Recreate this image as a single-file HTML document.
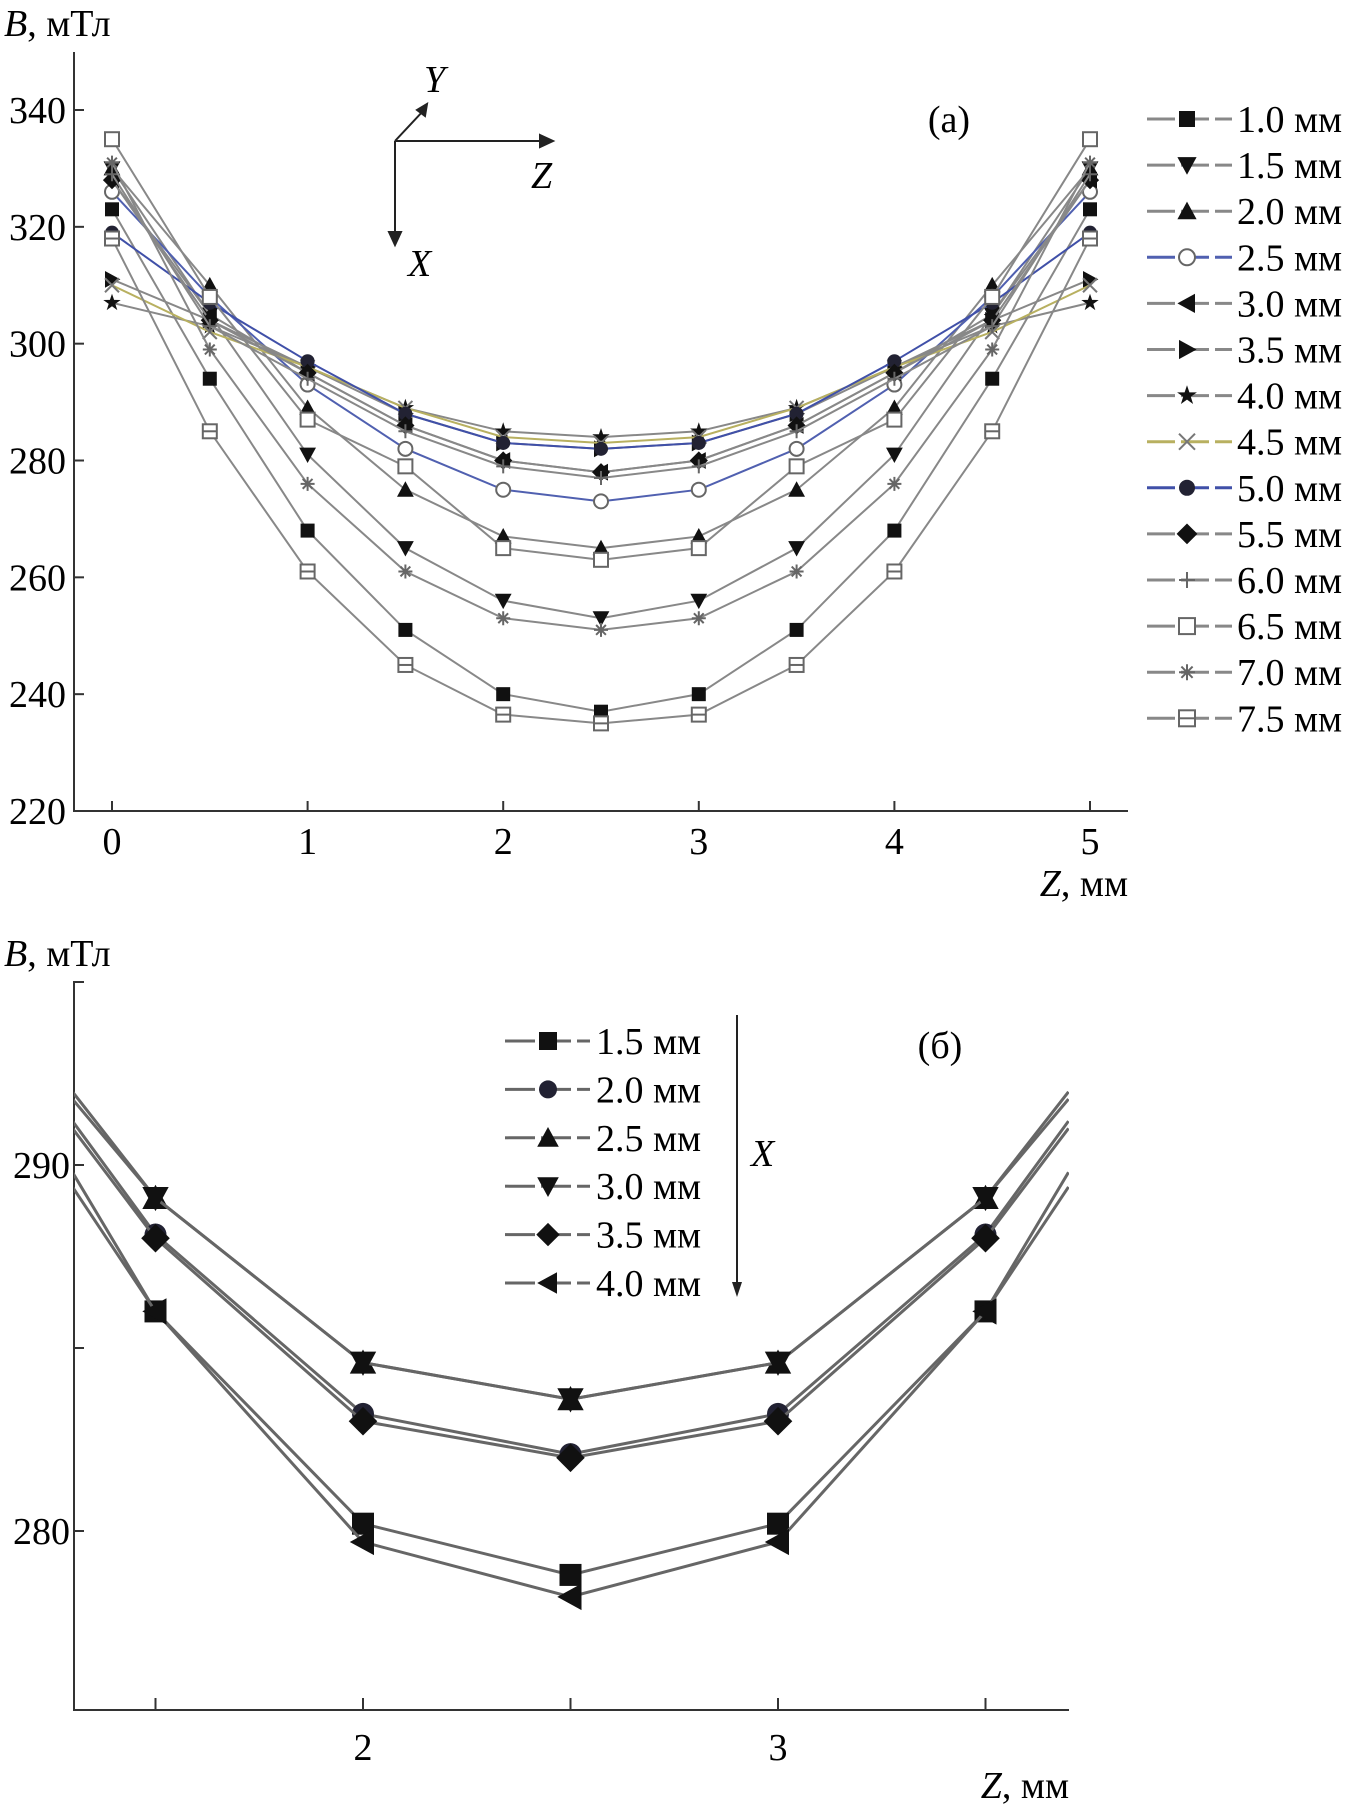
<!DOCTYPE html>
<html><head><meta charset="utf-8"><style>
body{margin:0;background:#fff}
svg{display:block;font-family:"Liberation Serif",serif}
</style></head><body>
<svg id="svg" width="1356" height="1810" viewBox="0 0 1356 1810" xmlns="http://www.w3.org/2000/svg">
<g id="topChart"></g>
<g id="botChart"></g>
</svg>
<script>
// ---- chart (a) data ----
const zA = [0,0.5,1,1.5,2,2.5,3,3.5,4,4.5,5];
const yTicksA = [220,240,260,280,300,320,340];
const xTicksA = [0,1,2,3,4,5];
const seriesNamesA = ["1.0 мм","1.5 мм","2.0 мм","2.5 мм","3.0 мм","3.5 мм","4.0 мм","4.5 мм","5.0 мм","5.5 мм","6.0 мм","6.5 мм","7.0 мм","7.5 мм"];
const markersA = ["square","down","up","ocircle","left","right","star","x","circle","diamond","plus","osquare","asterisk","osqline"];
const s10 = [323,294,268,251,240,237,240,251,268,294,323];
const s15 = [330,305,281,265,256,253,256,265,281,305,330];
const s20 = [330,310,289,275,267,265,267,275,289,310,330];
const s25 = [326,308,293,282,275,273,275,282,293,308,326];
const s30 = [328,305,295,286,280,278,280,286,295,305,328];
const s35 = [311,304,296,288,283,282,283,288,296,304,311];
const s40 = [307,303,296,289,285,284,285,289,296,303,307];
const s45 = [310,302,296,289,284,283,284,289,296,302,310];
const s50 = [319,307,297,288,283,282,283,288,297,307,319];
const s55 = [328,304,295,286,280,278,280,286,295,304,328];
const s60 = [329,303,294,285,279,277,279,285,294,303,329];
const s65 = [335,308,287,279,265,263,265,279,287,308,335];
const s70 = [331,299,276,261,253,251,253,261,276,299,331];
const s75 = [318,285,261,245,236.5,235,236.5,245,261,285,318];
const seriesA = [s10,s15,s20,s25,s30,s35,s40,s45,s50,s55,s60,s65,s70,s75];
const lineColorsA = ["#888","#888","#888","#5060b0","#888","#888","#888","#b8b060","#4050a8","#888","#888","#888","#888","#888"];

// ---- chart (b) data ----
const zB = [1.3,1.5,2,2.5,3,3.5,3.7];
const yTicksB = [280,290];
const xTicksB = [2,3];
const minorTicksB = [1.5,2,2.5,3,3.5];
const seriesNamesB = ["1.5 мм","2.0 мм","2.5 мм","3.0 мм","3.5 мм","4.0 мм"];
const markersB = ["square","circle","up","down","diamond","left"];
const b15 = [289.8,286.0,280.2,278.8,280.2,286.0,289.8];
const b20 = [291.2,288.1,283.2,282.1,283.2,288.1,291.2];
const b25 = [292.0,289.1,284.6,283.6,284.6,289.1,292.0];
const b30 = [291.8,289.1,284.6,283.6,284.6,289.1,291.8];
const b35 = [291.0,288.0,283.0,282.0,283.0,288.0,291.0];
const b40 = [289.4,286.0,279.7,278.2,279.7,286.0,289.4];
const seriesB = [b15,b20,b25,b30,b35,b40];

const NS="http://www.w3.org/2000/svg";
function el(tag,attrs,parent,text){const e=document.createElementNS(NS,tag);for(const k in attrs)e.setAttribute(k,attrs[k]);if(text!==undefined)e.textContent=text;parent.appendChild(e);return e;}

function marker(g,type,x,y,s){
  const b="#111";let m;
  switch(type){
    case "square":m=el("rect",{x:x-s,y:y-s,width:2*s,height:2*s,fill:b},g);break;
    case "osquare":m=el("rect",{x:x-s,y:y-s,width:2*s,height:2*s,fill:"#fff",stroke:"#666","stroke-width":2},g);break;
    case "osqline":m=el("g",{},g);el("rect",{x:x-s,y:y-s,width:2*s,height:2*s,fill:"#fff",stroke:"#666","stroke-width":2},m);el("line",{x1:x-s,y1:y,x2:x+s,y2:y,stroke:"#666","stroke-width":2},m);break;
    case "circle":m=el("circle",{cx:x,cy:y,r:s,fill:"#223"},g);break;
    case "ocircle":m=el("circle",{cx:x,cy:y,r:s,fill:"#fff",stroke:"#666","stroke-width":2},g);break;
    case "up":m=el("polygon",{points:`${x},${y-s*1.2} ${x-s*1.2},${y+s} ${x+s*1.2},${y+s}`,fill:b},g);break;
    case "down":m=el("polygon",{points:`${x},${y+s*1.2} ${x-s*1.2},${y-s} ${x+s*1.2},${y-s}`,fill:b},g);break;
    case "left":m=el("polygon",{points:`${x-s*1.2},${y} ${x+s},${y-s*1.2} ${x+s},${y+s*1.2}`,fill:b},g);break;
    case "right":m=el("polygon",{points:`${x+s*1.2},${y} ${x-s},${y-s*1.2} ${x-s},${y+s*1.2}`,fill:b},g);break;
    case "diamond":m=el("polygon",{points:`${x},${y-s*1.3} ${x+s*1.3},${y} ${x},${y+s*1.3} ${x-s*1.3},${y}`,fill:b},g);break;
    case "star":{let p=[];for(let i=0;i<10;i++){const r=i%2?s*0.5:s*1.3;const a=-Math.PI/2+i*Math.PI/5;p.push((x+r*Math.cos(a)).toFixed(1)+","+(y+r*Math.sin(a)).toFixed(1));}m=el("polygon",{points:p.join(" "),fill:b},g);break;}
    case "x":m=el("path",{d:`M${x-s},${y-s}L${x+s},${y+s}M${x-s},${y+s}L${x+s},${y-s}`,stroke:"#777","stroke-width":2},g);break;
    case "plus":m=el("path",{d:`M${x-s},${y}L${x+s},${y}M${x},${y-s}L${x},${y+s}`,stroke:"#666","stroke-width":2},g);break;
    case "asterisk":m=el("path",{d:`M${x-s},${y}L${x+s},${y}M${x},${y-s}L${x},${y+s}M${x-s*.7},${y-s*.7}L${x+s*.7},${y+s*.7}M${x-s*.7},${y+s*.7}L${x+s*.7},${y-s*.7}`,stroke:"#666","stroke-width":2},g);break;
  }
  return m;
}
const FS=38;
// ---------- chart (a) ----------
(function(){
  const g=document.getElementById("topChart");
  const x0=112,x1=1090,yTop=110,yBot=811;
  const xs=z=>x0+(z-0)*(x1-x0)/5;
  const ys=v=>yBot-(v-220)*(yBot-yTop)/120;
  let a=el("path",{d:"M74,52L74,811L1128,811",fill:"none",stroke:"#333","stroke-width":2},g);
  
  yTicksA.forEach(v=>{el("line",{x1:74,y1:ys(v),x2:84,y2:ys(v),stroke:"#333","stroke-width":2},g);
    const t=el("text",{x:66,y:ys(v)+13,"text-anchor":"end","font-size":FS},g,String(v));
    });
  xTicksA.forEach(v=>{el("line",{x1:xs(v),y1:811,x2:xs(v),y2:801,stroke:"#333","stroke-width":2},g);
    const t=el("text",{x:xs(v),y:854,"text-anchor":"middle","font-size":FS},g,String(v));
    });
  const yl=el("text",{x:4,y:36,"font-size":FS},g);yl.innerHTML='<tspan font-style="italic">B</tspan>, мТл';
  
  const xl=el("text",{x:1128,y:896,"text-anchor":"end","font-size":FS},g);xl.innerHTML='<tspan font-style="italic">Z</tspan>, мм';
  
  const pl=el("text",{x:949,y:132,"text-anchor":"middle","font-size":FS},g,"(a)");
  
  const ci=el("g",{stroke:"#222","stroke-width":2,fill:"none"},g);
  
  el("path",{d:"M395,141L548,141M395,141L395,240M395,141L424,110"},ci);
  el("path",{d:"M540,135L553,141L540,147Z M389,232L395,245L401,232Z M417,110L427,104L425,116Z",fill:"#222"},ci);
  el("text",{x:424,y:92,"font-size":FS,"font-style":"italic"},g,"Y");
  el("text",{x:531,y:188,"font-size":FS,"font-style":"italic"},g,"Z");
  el("text",{x:408,y:276,"font-size":FS,"font-style":"italic"},g,"X");
  seriesA.forEach((s,i)=>{
    const sg=el("g",{},g);
    
    
    el("polyline",{points:s.map((v,j)=>xs(zA[j])+","+ys(v)).join(" "),fill:"none",stroke:lineColorsA[i],"stroke-width":2},sg);
    s.forEach((v,j)=>{const m=marker(sg,markersA[i],xs(zA[j]),ys(v),7);
      });
    const ly=119+i*46.1;
    const lg=el("g",{},g);
    
    el("line",{x1:1147,y1:ly,x2:1232,y2:ly,stroke:lineColorsA[i],"stroke-width":3,"stroke-dasharray":"28 6"},lg);
    marker(lg,markersA[i],1187,ly,8);
    el("text",{x:1237,y:ly+13,"font-size":FS},lg,seriesNamesA[i]);
  });
})();

// ---------- chart (b) ----------
(function(){
  const g=document.getElementById("botChart");
  const xs=z=>363+(z-2)*415;
  const ys=v=>1531-(v-280)*36.6;
  let a=el("path",{d:"M84,982L74,982L74,1710L1069,1710",fill:"none",stroke:"#333","stroke-width":2},g);
  
  [280,285,290].forEach(v=>el("line",{x1:74,y1:ys(v),x2:84,y2:ys(v),stroke:"#333","stroke-width":2},g));
  yTicksB.forEach(v=>{const t=el("text",{x:70,y:ys(v)+13,"text-anchor":"end","font-size":FS},g,String(v));
    });
  minorTicksB.forEach(v=>el("line",{x1:xs(v),y1:1710,x2:xs(v),y2:1698,stroke:"#333","stroke-width":2},g));
  xTicksB.forEach(v=>{const t=el("text",{x:xs(v),y:1760,"text-anchor":"middle","font-size":FS},g,String(v));
    });
  const yl=el("text",{x:4,y:966,"font-size":FS},g);yl.innerHTML='<tspan font-style="italic">B</tspan>, мТл';
  
  const xl=el("text",{x:1069,y:1798,"text-anchor":"end","font-size":FS},g);xl.innerHTML='<tspan font-style="italic">Z</tspan>, мм';
  
  const pl=el("text",{x:940,y:1058,"text-anchor":"middle","font-size":FS},g,"(б)");
  
  const ar=el("g",{},g);
  el("line",{x1:737,y1:1015,x2:737,y2:1290,stroke:"#222","stroke-width":2},ar);
  el("path",{d:"M732,1282L737,1297L742,1282Z",fill:"#222"},ar);
  el("text",{x:751,y:1166,"font-size":FS,"font-style":"italic"},g,"X");
  const clip=el("clipPath",{id:"cb"},g);el("rect",{x:74,y:982,width:995,height:728},clip);
  seriesB.forEach((s,i)=>{
    const sg=el("g",{"clip-path":"url(#cb)"},g);
    
    
    el("polyline",{points:s.map((v,j)=>xs(zB[j])+","+ys(v)).join(" "),fill:"none",stroke:"#666","stroke-width":3},sg);
    s.forEach((v,j)=>{if(j===0||j===s.length-1)return;const m=marker(sg,markersB[i],xs(zB[j]),ys(v),11);
      });
    const ly=1041+i*48.4;
    const lg=el("g",{},g);
    
    el("line",{x1:505,y1:ly,x2:590,y2:ly,stroke:"#666","stroke-width":3,"stroke-dasharray":"30 6"},lg);
    marker(lg,markersB[i],548,ly,9);
    el("text",{x:596,y:ly+13,"font-size":FS},lg,seriesNamesB[i]);
  });
})();
</script>
</body></html>
